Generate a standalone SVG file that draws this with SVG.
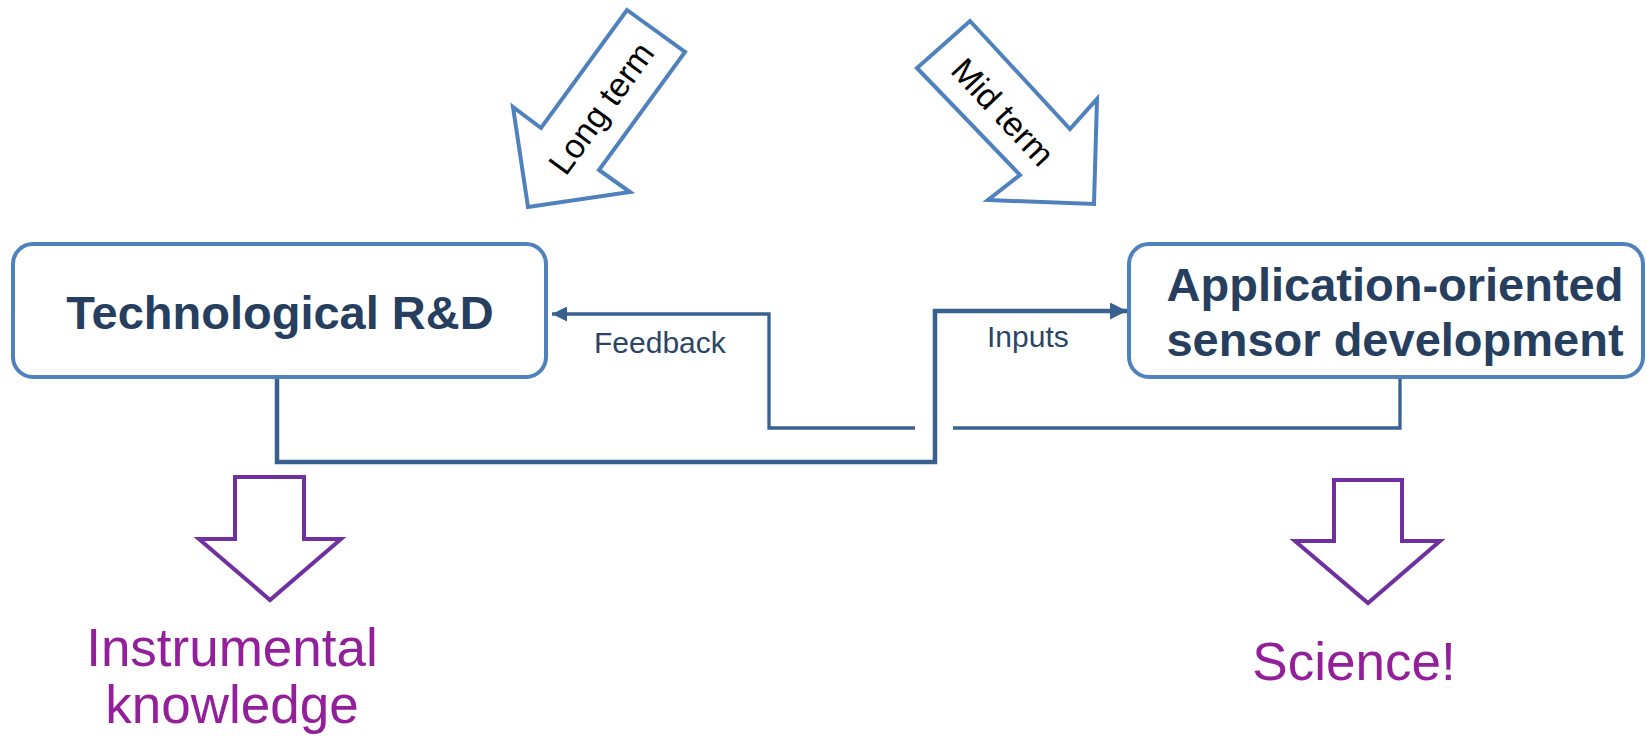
<svg xmlns="http://www.w3.org/2000/svg" width="1647" height="742" viewBox="0 0 1647 742">
<style>
.box{fill:#fff;stroke:#4f81bd;stroke-width:4}
.bt{font-family:"Liberation Sans",Arial,sans-serif;font-weight:bold;fill:#263f5f;text-anchor:middle}
.blk{fill:#fff;stroke:#4f81bd;stroke-width:4;stroke-linejoin:miter}
.at{font-family:"Liberation Sans",Arial,sans-serif;font-size:34px;fill:#000;text-anchor:middle;dominant-baseline:central}
.pur{fill:#fff;stroke:#7030a0;stroke-width:4}
.pt{font-family:"Liberation Sans",Arial,sans-serif;font-size:53px;fill:#93209a;text-anchor:middle}
.fb{fill:none;stroke:#38618f;stroke-width:3.3}
.in{fill:none;stroke:#38618f;stroke-width:4.5}
.lt{font-family:"Liberation Sans",Arial,sans-serif;font-size:30px;fill:#2b4566}
</style>
<defs>
<marker id="ah" markerUnits="userSpaceOnUse" markerWidth="17" markerHeight="17" viewBox="0 0 16 16" refX="16" refY="8" orient="auto">
<path d="M0,0 L16,8 L0,16 Z" fill="#38618f"/>
</marker>
<marker id="ahs" markerUnits="userSpaceOnUse" markerWidth="15" markerHeight="15" viewBox="0 0 16 16" refX="16" refY="8" orient="auto">
<path d="M0,0 L16,8 L0,16 Z" fill="#38618f"/>
</marker>
</defs>
<g id="long-term">
<polygon class="blk" points="627,10 685,52 599,170 630,192 528,207 513,107 541,128"/>
<text class="at" transform="translate(601,108) rotate(-54)">Long term</text>
</g>
<g id="mid-term">
<polygon class="blk" points="970,21 1070,129 1097,99 1094,204 988,200 1020,175 917,68"/>
<text class="at" transform="translate(1003,112) rotate(47)">Mid term</text>
</g>
<g id="connectors">
<path class="in" d="M277,377 V462 H935 V311 H1127" marker-end="url(#ah)"/>
<path class="fb" d="M1400,377 V428 H953"/>
<path class="fb" d="M915,428 H769 V314 H552" marker-end="url(#ahs)"/>
<text class="lt" x="594" y="353">Feedback</text>
<text class="lt" x="987" y="347">Inputs</text>
</g>
<g id="tech">
<rect class="box" x="13" y="244" width="533" height="133" rx="20"/>
<text class="bt" x="280" y="329" font-size="47">Technological R&amp;D</text>
</g>
<g id="app">
<rect class="box" x="1129" y="244" width="514" height="133" rx="20"/>
<text class="bt" x="1395" y="301" font-size="47">Application-oriented</text>
<text class="bt" x="1395" y="356" font-size="47">sensor development</text>
</g>
<g id="instrumental">
<polygon class="pur" points="235,477 304,477 304,539 341,539 270,600 199,539 235,539"/>
<text class="pt" x="232" y="666">Instrumental</text>
<text class="pt" x="232" y="723">knowledge</text>
</g>
<g id="science">
<polygon class="pur" points="1334,480 1402,480 1402,541 1440,541 1368,603 1295,541 1334,541"/>
<text class="pt" x="1354" y="680">Science!</text>
</g>
</svg>
